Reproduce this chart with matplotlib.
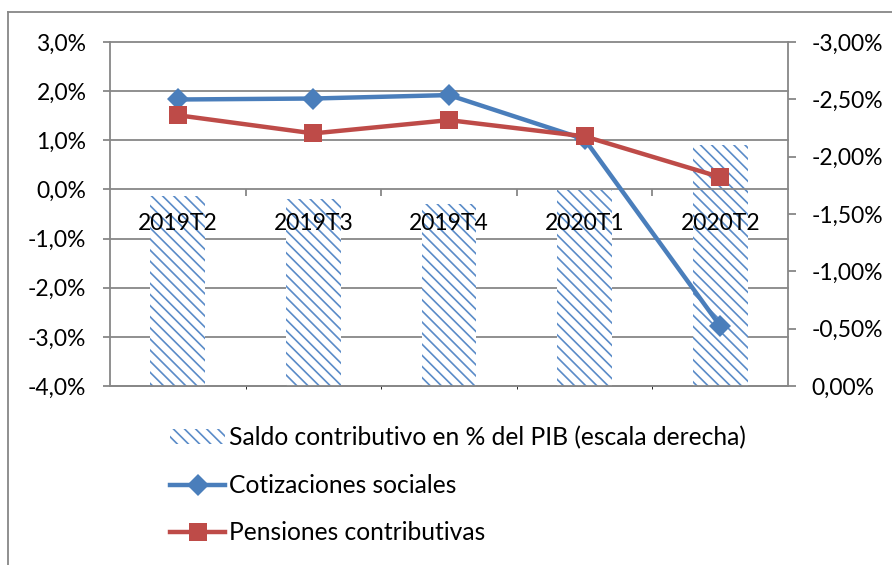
import matplotlib
matplotlib.use("Agg")
import matplotlib.pyplot as plt
from matplotlib.patches import Patch
from matplotlib.lines import Line2D
from matplotlib.transforms import blended_transform_factory

plt.rcParams['font.family'] = ['Lato', 'DejaVu Sans']

categories = ["2019T2", "2019T3", "2019T4", "2020T1", "2020T2"]
saldo = [-1.66, -1.63, -1.59, -1.71, -2.10]          # right scale (%)
cotizaciones = [1.83, 1.85, 1.92, 1.02, -2.78]       # left scale (%)
pensiones = [1.51, 1.14, 1.41, 1.08, 0.25]           # left scale (%)

left_ticks = [-4, -3, -2, -1, 0, 1, 2, 3]
left_labels = ["-4,0%", "-3,0%", "-2,0%", "-1,0%", "0,0%", "1,0%", "2,0%", "3,0%"]
right_ticks = [0, -0.5, -1.0, -1.5, -2.0, -2.5, -3.0]
right_labels = ["0,00%", "-0,50%", "-1,00%", "-1,50%", "-2,00%", "-2,50%", "-3,00%"]

legend_labels = ["Saldo contributivo en % del PIB (escala derecha)",
                 "Cotizaciones sociales", "Pensiones contributivas"]

BLUE = "#4A7EBB"
RED = "#BE4B48"
HATCH_BLUE = "#5A8BC8"
GRID = "#878787"
FS = 16.5
LFS = 17.7

W, H = 892, 565
fig = plt.figure(figsize=(W / 100, H / 100), dpi=100)
plt.rcParams['hatch.linewidth'] = 1.2

# outer frame lines
fig.add_artist(Line2D([8 / W, 8 / W], [0, 1 - 12 / H], color=GRID, lw=1.3))
fig.add_artist(Line2D([8 / W, 1], [1 - 12 / H, 1 - 12 / H], color=GRID, lw=1.3))

pos = [110 / W, 1 - 386 / H, (788 - 110) / W, (386 - 42) / H]
ax2 = fig.add_axes(pos)   # right scale, bars
ax = fig.add_axes(pos, sharex=ax2)    # left scale, lines
ax.set_zorder(ax2.get_zorder() + 1)
ax.patch.set_visible(False)

x = list(range(len(categories)))
ax2.set_xlim(-0.5, len(categories) - 0.5)
ax.set_ylim(-4, 3)
ax2.set_ylim(0, -3)

# gridlines behind bars (on left scale)
tr = blended_transform_factory(ax2.transAxes, ax.transData)
for v in left_ticks:
    if v != 0:
        ax2.plot([0, 1], [v, v], transform=tr, color=GRID, lw=1.3, zorder=0.5, clip_on=False)

ax2.bar(x, saldo, width=0.405, color="white", edgecolor=HATCH_BLUE, hatch="\\\\\\",
        linewidth=0, zorder=2)

ax.plot(x, cotizaciones, color=BLUE, lw=3.2, marker="D", markersize=11,
        markeredgewidth=0, zorder=4, clip_on=False)
ax.plot(x, pensiones, color=RED, lw=3.2, marker="s", markersize=13,
        markeredgewidth=0, zorder=5, clip_on=False)

# spines
for s in ["top", "right"]:
    ax.spines[s].set_visible(False)
ax.spines["left"].set_color(GRID)
ax.spines["left"].set_linewidth(1.3)
ax.spines["bottom"].set_position(("data", 0))
ax.spines["bottom"].set_color(GRID)
ax.spines["bottom"].set_linewidth(1.3)
ax.spines["bottom"].set_zorder(3)
for s in ["top", "left"]:
    ax2.spines[s].set_visible(False)
ax2.spines["right"].set_color(GRID)
ax2.spines["right"].set_linewidth(1.3)
ax2.spines["bottom"].set_color(GRID)
ax2.spines["bottom"].set_linewidth(1.3)

ax.set_yticks(left_ticks)
ax.set_yticklabels(left_labels, fontsize=FS)
ax.tick_params(axis="y", direction="out", length=5, width=1.3, color=GRID, pad=12)

ax2.yaxis.tick_right()
ax2.set_yticks(right_ticks)
ax2.set_yticklabels(right_labels, fontsize=FS)
ax2.tick_params(axis="y", direction="out", length=6, width=1.3, color=GRID, pad=11)
ax2.tick_params(axis="x", bottom=False, labelbottom=False)

ax.set_xticks(x)
ax.set_xticklabels(categories, fontsize=FS)
ax.set_xticks([0.5, 1.5, 2.5, 3.5], minor=True)
ax.tick_params(axis="x", which="major", length=0, pad=17)
ax.tick_params(axis="x", which="minor", direction="out", length=5, width=1.3, color=GRID)
for t in ax.get_xticklabels():
    t.set_zorder(6)

handles = [
    Patch(facecolor="white", edgecolor=HATCH_BLUE, hatch="\\\\\\", linewidth=0),
    Line2D([], [], color=BLUE, lw=3.2, marker="D", markersize=11, markeredgewidth=0),
    Line2D([], [], color=RED, lw=3.2, marker="s", markersize=13, markeredgewidth=0),
]
fig.legend(handles, legend_labels, loc="upper left", bbox_to_anchor=(170 / W, 1 - 426 / H),
           frameon=False, fontsize=LFS, handlelength=2.25, handleheight=0.55,
           handletextpad=0.17, labelspacing=0.99, borderpad=0, borderaxespad=0)

fig.savefig("out.png", dpi=100)
